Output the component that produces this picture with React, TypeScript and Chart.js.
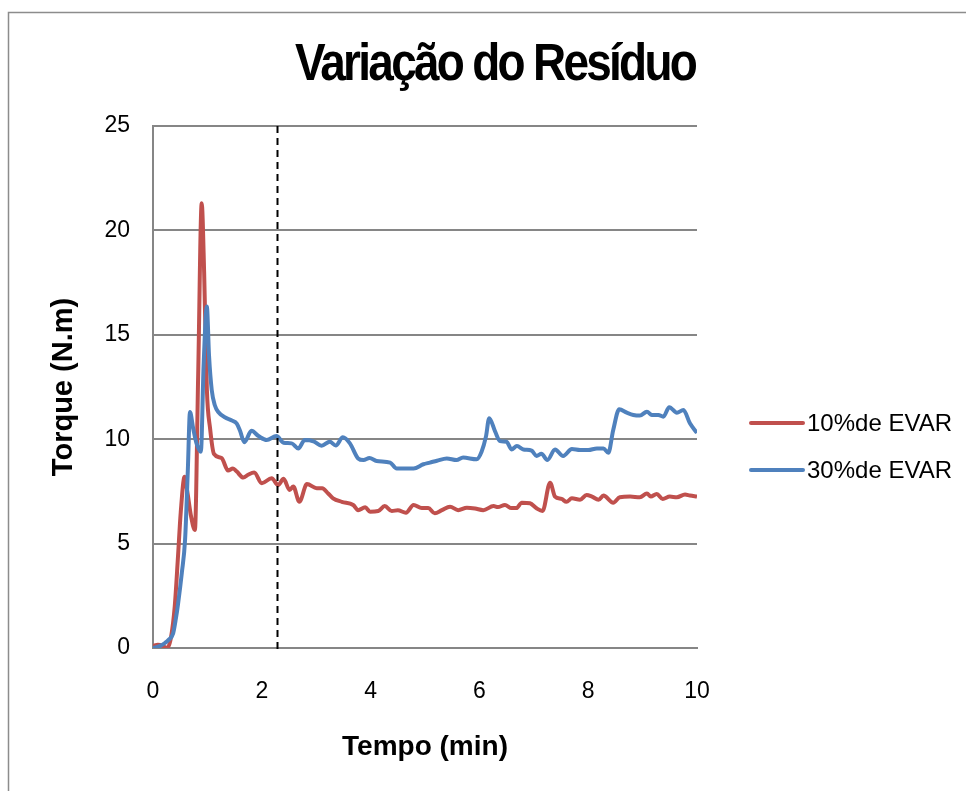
import { useEffect, useRef } from "react";
import { Chart, registerables } from "chart.js";

Chart.register(...registerables);

const TITLE = "Variação do Resíduo";
const X_TITLE = "Tempo (min)";
const Y_TITLE = "Torque (N.m)";
const SERIES_LABELS = ["10%de EVAR", "30%de EVAR"];
const SERIES_COLORS = ["#C0504D", "#4F81BD"];
const X_MIN = 0;
const X_MAX = 10;
const X_STEP = 2;
const Y_MIN = 0;
const Y_MAX = 25;
const Y_STEP = 5;
const MARKER_TIME = 2.28;

const redTime = [0, 0.09, 0.18, 0.26, 0.33, 0.40, 0.46, 0.51, 0.58, 0.63, 0.70, 0.77, 0.83, 0.895, 0.94, 0.99, 1.05, 1.12, 1.26, 1.38, 1.47, 1.54, 1.66, 1.75, 1.86, 2.0, 2.18, 2.30, 2.40, 2.51, 2.58, 2.69, 2.83, 3.01, 3.11, 3.22, 3.31, 3.47, 3.68, 3.77, 3.90, 3.99, 4.14, 4.26, 4.39, 4.50, 4.65, 4.79, 4.94, 5.06, 5.18, 5.31, 5.46, 5.61, 5.77, 5.92, 6.07, 6.26, 6.34, 6.47, 6.59, 6.68, 6.78, 6.93, 7.05, 7.16, 7.30, 7.39, 7.51, 7.60, 7.70, 7.85, 7.97, 8.07, 8.19, 8.28, 8.46, 8.58, 8.77, 8.95, 9.08, 9.15, 9.26, 9.37, 9.50, 9.63, 9.78, 9.87, 10.0];
const redTorque = [0.1, 0.15, 0.1, 0.0, 0.5, 2.0, 4.4, 6.5, 8.2, 7.5, 6.3, 5.65, 13, 21.3, 18, 12.4, 10.5, 9.3, 9.1, 8.5, 8.6, 8.45, 8.16, 8.3, 8.4, 7.89, 8.13, 7.8, 8.1, 7.57, 7.73, 7.0, 7.85, 7.65, 7.65, 7.4, 7.17, 7.0, 6.85, 6.6, 6.74, 6.53, 6.56, 6.8, 6.56, 6.6, 6.48, 6.85, 6.7, 6.7, 6.45, 6.6, 6.77, 6.6, 6.72, 6.68, 6.6, 6.8, 6.75, 6.85, 6.7, 6.7, 6.96, 6.93, 6.69, 6.56, 7.92, 7.25, 7.14, 7.0, 7.17, 7.1, 7.33, 7.25, 7.1, 7.3, 6.96, 7.22, 7.25, 7.22, 7.4, 7.25, 7.38, 7.14, 7.25, 7.22, 7.35, 7.3, 7.25];

const blueTime = [0, 0.13, 0.22, 0.29, 0.37, 0.42, 0.46, 0.53, 0.59, 0.64, 0.68, 0.74, 0.80, 0.88, 0.93, 0.99, 1.03, 1.08, 1.14, 1.20, 1.32, 1.45, 1.54, 1.60, 1.68, 1.81, 1.94, 2.09, 2.27, 2.40, 2.55, 2.67, 2.79, 2.95, 3.10, 3.25, 3.36, 3.49, 3.62, 3.77, 3.87, 3.98, 4.11, 4.36, 4.48, 4.63, 4.79, 4.97, 5.09, 5.22, 5.40, 5.58, 5.70, 5.95, 6.04, 6.12, 6.18, 6.29, 6.38, 6.50, 6.59, 6.69, 6.81, 6.96, 7.05, 7.14, 7.25, 7.39, 7.54, 7.70, 7.85, 8.00, 8.16, 8.28, 8.37, 8.46, 8.57, 8.71, 8.83, 8.95, 9.08, 9.17, 9.29, 9.38, 9.49, 9.63, 9.75, 9.87, 10.0];
const blueTorque = [0.0, 0.1, 0.24, 0.4, 0.7, 1.4, 2.1, 3.6, 5.2, 8.5, 11.3, 10.5, 9.8, 9.4, 13.5, 16.35, 14, 12.35, 11.6, 11.3, 11.05, 10.9, 10.75, 10.4, 9.85, 10.4, 10.15, 9.96, 10.15, 9.83, 9.8, 9.56, 9.96, 9.9, 9.69, 9.88, 9.7, 10.09, 9.8, 9.08, 9.0, 9.1, 8.96, 8.88, 8.6, 8.6, 8.6, 8.8, 8.88, 8.97, 9.08, 9.0, 9.12, 9.04, 9.4, 10.12, 11.0, 10.36, 9.91, 9.88, 9.51, 9.67, 9.51, 9.45, 9.2, 9.3, 9.0, 9.51, 9.2, 9.53, 9.48, 9.48, 9.56, 9.56, 9.35, 10.44, 11.43, 11.27, 11.16, 11.13, 11.32, 11.16, 11.16, 11.08, 11.53, 11.27, 11.4, 10.76, 10.3];

const FONT = "'Liberation Sans', Arial, sans-serif";
const GRID = "#868686";

const framePlugin = {
  id: "frame",
  beforeDraw(chart: any) {
    const ctx = chart.ctx;
    ctx.save();
    ctx.fillStyle = "#ffffff";
    ctx.fillRect(0, 0, chart.width, chart.height);
    ctx.strokeStyle = "#8c8c8c";
    ctx.lineWidth = 1.5;
    ctx.strokeRect(8.5, 12.5, chart.width + 20, chart.height + 20);
    ctx.restore();
  },
};

const titlePlugin = {
  id: "condensedTitle",
  afterDraw(chart: any) {
    const ctx = chart.ctx;
    ctx.save();
    ctx.fillStyle = "#000000";
    ctx.font = `bold 51px ${FONT}`;
    ctx.textBaseline = "alphabetic";
    ctx.textAlign = "center";
    ctx.translate(495, 80);
    if ("letterSpacing" in ctx) {
      ctx.letterSpacing = "-3px";
      ctx.scale(0.9, 1);
    } else {
      ctx.scale(0.8, 1);
    }
    ctx.fillText(TITLE, 0, 0);
    ctx.restore();
  },
};

const markerPlugin = {
  id: "marker",
  afterDatasetsDraw(chart: any) {
    const { ctx, chartArea, scales } = chart;
    const x = Math.round(scales.x.getPixelForValue(MARKER_TIME)) + 0.5;
    ctx.save();
    ctx.strokeStyle = "#000000";
    ctx.lineWidth = 2;
    ctx.setLineDash([7, 5]);
    ctx.beginPath();
    ctx.moveTo(x, chartArea.top);
    ctx.lineTo(x, chartArea.bottom + 6);
    ctx.stroke();
    ctx.restore();
  },
};

const legendPlugin = {
  id: "customLegend",
  afterDraw(chart: any) {
    const ctx = chart.ctx;
    const rows = [423, 470];
    ctx.save();
    chart.data.datasets.forEach((ds: any, i: number) => {
      const y = rows[i];
      ctx.strokeStyle = ds.borderColor;
      ctx.lineWidth = 4;
      ctx.lineCap = "round";
      ctx.beginPath();
      ctx.moveTo(751, y);
      ctx.lineTo(803, y);
      ctx.stroke();
      ctx.fillStyle = "#000000";
      ctx.font = `24px ${FONT}`;
      ctx.textAlign = "left";
      ctx.textBaseline = "middle";
      ctx.fillText(ds.label, 807, y + 1);
    });
    ctx.restore();
  },
};

export default function App() {
  const ref = useRef<HTMLCanvasElement | null>(null);

  useEffect(() => {
    if (!ref.current) return;
    const red = redTime.map((t, i) => ({ x: t, y: redTorque[i] }));
    const blue = blueTime.map((t, i) => ({ x: t, y: blueTorque[i] }));
    const chart = new Chart(ref.current, {
      type: "line",
      data: {
        datasets: [
          {
            label: SERIES_LABELS[0],
            data: red,
            borderColor: SERIES_COLORS[0],
            backgroundColor: SERIES_COLORS[0],
            borderWidth: 4,
            pointRadius: 0,
            cubicInterpolationMode: "monotone",
            order: 1,
          },
          {
            label: SERIES_LABELS[1],
            data: blue,
            borderColor: SERIES_COLORS[1],
            backgroundColor: SERIES_COLORS[1],
            borderWidth: 4,
            pointRadius: 0,
            cubicInterpolationMode: "monotone",
            order: 0,
          },
        ],
      },
      options: {
        animation: false,
        responsive: false,
        events: [],
        layout: { padding: { left: 40, right: 269, top: 126, bottom: 20 } },
        plugins: {
          legend: { display: false },
          tooltip: { enabled: false },
          title: { display: false },
        },
        scales: {
          x: {
            type: "linear",
            min: X_MIN,
            max: X_MAX,
            afterFit(scale: any) {
              scale.height = 123;
            },
            ticks: {
              stepSize: X_STEP,
              color: "#000000",
              font: { family: FONT, size: 23 },
              padding: 30,
              maxRotation: 0,
            },
            grid: { display: false, drawTicks: false },
            border: { display: true, color: GRID, width: 2 },
            title: {
              display: true,
              text: X_TITLE,
              color: "#000000",
              font: { family: FONT, size: 28, weight: "bold" },
              padding: { top: 0, bottom: 7 },
            },
          },
          y: {
            min: Y_MIN,
            max: Y_MAX,
            afterFit(scale: any) {
              scale.width = 113;
            },
            ticks: {
              stepSize: Y_STEP,
              color: "#000000",
              font: { family: FONT, size: 23 },
              padding: 23,
            },
            grid: { color: GRID, lineWidth: 2, drawTicks: false },
            border: { display: true, color: GRID, width: 2 },
            title: {
              display: true,
              text: Y_TITLE,
              color: "#000000",
              font: { family: FONT, size: 29, weight: "bold" },
              padding: { top: 7, bottom: 0 },
            },
          },
        },
      },
      plugins: [framePlugin, markerPlugin, titlePlugin, legendPlugin],
    });
    return () => chart.destroy();
  }, []);

  return (
    <div style={{ position: "absolute", left: 0, top: 0, width: 966, height: 791 }}>
      <canvas ref={ref} width={966} height={791} />
    </div>
  );
}
